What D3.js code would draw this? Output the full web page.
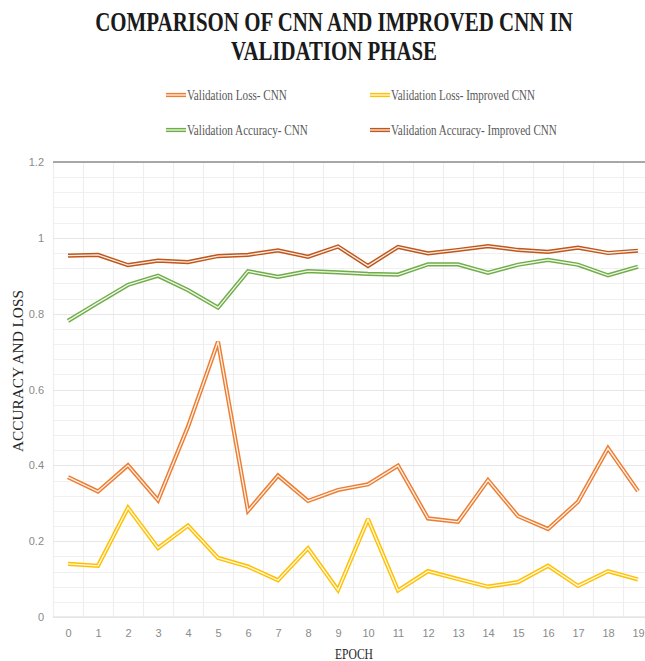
<!DOCTYPE html>
<html>
<head>
<meta charset="utf-8">
<script src="https://cdn.jsdelivr.net/npm/d3@7"></script>
<style>
  html, body { margin: 0; padding: 0; background: #fff; }
  svg { display: block; }
</style>
</head>
<body>
<svg id="chart" width="645" height="661"></svg>
<script>
// ---- Data ----
const epochs = [0,1,2,3,4,5,6,7,8,9,10,11,12,13,14,15,16,17,18,19];
const lossCNN = [0.369,0.331,0.400,0.308,0.502,0.726,0.280,0.373,0.306,0.335,0.350,0.399,0.260,0.251,0.361,0.266,0.232,0.304,0.445,0.332];
const lossImproved = [0.140,0.135,0.288,0.182,0.241,0.156,0.133,0.097,0.181,0.071,0.258,0.070,0.121,0.100,0.080,0.092,0.135,0.082,0.121,0.099];
const accCNN = [0.781,0.829,0.876,0.900,0.862,0.816,0.912,0.897,0.912,0.909,0.905,0.903,0.930,0.930,0.908,0.929,0.942,0.929,0.901,0.924];
const accImproved = [0.953,0.955,0.928,0.940,0.936,0.952,0.955,0.967,0.950,0.977,0.926,0.976,0.959,0.968,0.978,0.968,0.963,0.974,0.960,0.966];
const yTicks = [0, 0.2, 0.4, 0.6, 0.8, 1, 1.2];
const seriesNames = ["Validation Loss- CNN", "Validation Loss- Improved CNN", "Validation Accuracy- CNN", "Validation Accuracy- Improved CNN"];
const seriesColors = ["#ED7D31", "#FFC000", "#70AD47", "#C0561A"];
const seriesValues = [lossCNN, lossImproved, accCNN, accImproved];

(function () {
// ---- Layout ----
const svg = d3.select("#chart");
const pl = 53, pr = 653, pt = 162, pb = 617;

const x = d3.scalePoint().domain(epochs).range([pl, pr]).padding(0.5);
const y = d3.scaleLinear().domain([0, 1.2]).range([pb, pt]);
const step = x.step();

function condensed(parent, str, px, py, targetW, anchor, rotate) {
  const g = parent.append("g");
  const t = g.append("text").attr("x", 0).attr("y", 0).attr("text-anchor", anchor).text(str);
  return {g, t, fit() {
    const w = t.node().getComputedTextLength();
    const s = targetW / w;
    g.attr("transform", `translate(${px},${py})` + (rotate ? ` rotate(${rotate})` : "") + ` scale(${s},1)`);
  }};
}

// ---- Gridlines ----
const grid = svg.append("g");
const minorY = d3.range(0, 31).map(i => i * 0.04);
grid.selectAll("line.hmin").data(minorY).join("line")
  .attr("x1", pl).attr("x2", pr)
  .attr("y1", d => Math.round(y(d)) + 0.5).attr("y2", d => Math.round(y(d)) + 0.5)
  .attr("stroke", "#f0f0f0").attr("stroke-width", 1.2);
const vBounds = d3.range(0, epochs.length + 1);
grid.selectAll("line.v").data(vBounds).join("line")
  .attr("x1", d => Math.round(pl + d * step) + 0.5).attr("x2", d => Math.round(pl + d * step) + 0.5)
  .attr("y1", pt).attr("y2", pb)
  .attr("stroke", "#eeeeee").attr("stroke-width", 1.2);
grid.selectAll("line.hmaj").data(yTicks.slice(1, -1)).join("line")
  .attr("x1", pl).attr("x2", pr)
  .attr("y1", d => Math.round(y(d)) + 0.5).attr("y2", d => Math.round(y(d)) + 0.5)
  .attr("stroke", "#e6e6e6").attr("stroke-width", 1.2);
svg.append("line")
  .attr("x1", pl).attr("x2", pr)
  .attr("y1", y(1.2)).attr("y2", y(1.2))
  .attr("stroke", "#8c8c8c").attr("stroke-width", 1.5);
svg.append("line")
  .attr("x1", pl).attr("x2", pr)
  .attr("y1", y(0)).attr("y2", y(0))
  .attr("stroke", "#d9d9d9").attr("stroke-width", 1.2);

// ---- Axes ----
const yAxis = d3.axisLeft(y).tickValues(yTicks).tickSize(0).tickPadding(9)
  .tickFormat(d => d3.format("~g")(d));
const gy = svg.append("g").attr("transform", `translate(${pl},0)`).call(yAxis);
gy.select(".domain").remove();
gy.selectAll("text").attr("font-family", "'Liberation Sans Narrow', 'Liberation Sans', Arial, sans-serif")
  .attr("font-size", 11).attr("fill", "#8a8a8a");

const xAxis = d3.axisBottom(x).tickSize(0).tickPadding(12);
const gx = svg.append("g").attr("transform", `translate(0,${pb})`).call(xAxis);
gx.select(".domain").remove();
gx.selectAll("text").attr("font-family", "'Liberation Sans Narrow', 'Liberation Sans', Arial, sans-serif")
  .attr("font-size", 11).attr("fill", "#8a8a8a");

// ---- Lines (double compound style) ----
const line = d3.line().x((d, i) => x(epochs[i])).y(d => y(d));
[0, 1, 2, 3].forEach(k => {
  const g = svg.append("g");
  g.append("path").datum(seriesValues[k]).attr("d", line)
    .attr("fill", "none").attr("stroke", seriesColors[k]).attr("stroke-width", 4.2)
    .attr("stroke-linejoin", "miter").attr("stroke-miterlimit", 2.5);
  g.append("path").datum(seriesValues[k]).attr("d", line)
    .attr("fill", "none").attr("stroke", "#ffffff").attr("stroke-width", 1.3)
    .attr("stroke-opacity", 0.9).attr("stroke-linejoin", "miter").attr("stroke-miterlimit", 2.5);
});

// ---- Title ----
const title = svg.append("g").attr("font-family", "'Liberation Serif', 'Times New Roman', serif")
  .attr("font-weight", "bold").attr("fill", "#1a1a1a").attr("font-size", 27);
condensed(title, "COMPARISON OF CNN AND IMPROVED CNN IN", 334, 31, 478, "middle").fit();
condensed(title, "VALIDATION PHASE", 334, 60, 206, "middle").fit();

// ---- Legend ----
const legendPos = [
  {mx: 166, ty: 95, tl: 100},
  {mx: 370, ty: 95, tl: 144},
  {mx: 166, ty: 130, tl: 121},
  {mx: 370, ty: 130, tl: 166}
];
const legend = svg.append("g")
  .attr("font-family", "'Liberation Serif', 'Times New Roman', serif")
  .attr("font-size", 14.5).attr("fill", "#595959");
seriesNames.forEach((name, k) => {
  const p = legendPos[k];
  legend.append("line").attr("x1", p.mx).attr("x2", p.mx + 20)
    .attr("y1", p.ty).attr("y2", p.ty)
    .attr("stroke", seriesColors[k]).attr("stroke-width", 4.2);
  legend.append("line").attr("x1", p.mx).attr("x2", p.mx + 20)
    .attr("y1", p.ty).attr("y2", p.ty)
    .attr("stroke", "#fff").attr("stroke-width", 1.3).attr("stroke-opacity", 0.9);
  condensed(legend, name, p.mx + 21, p.ty + 5, p.tl, "start").fit();
});

// ---- Axis titles ----
const axT = svg.append("g")
  .attr("font-family", "'Liberation Serif', 'Times New Roman', serif")
  .attr("fill", "#262626").attr("font-size", 14.5);
condensed(axT, "ACCURACY AND LOSS", 23, 371, 162, "middle", -90).fit();
condensed(axT, "EPOCH", 354, 659, 38, "middle").fit();
})();
</script>
</body>
</html>
